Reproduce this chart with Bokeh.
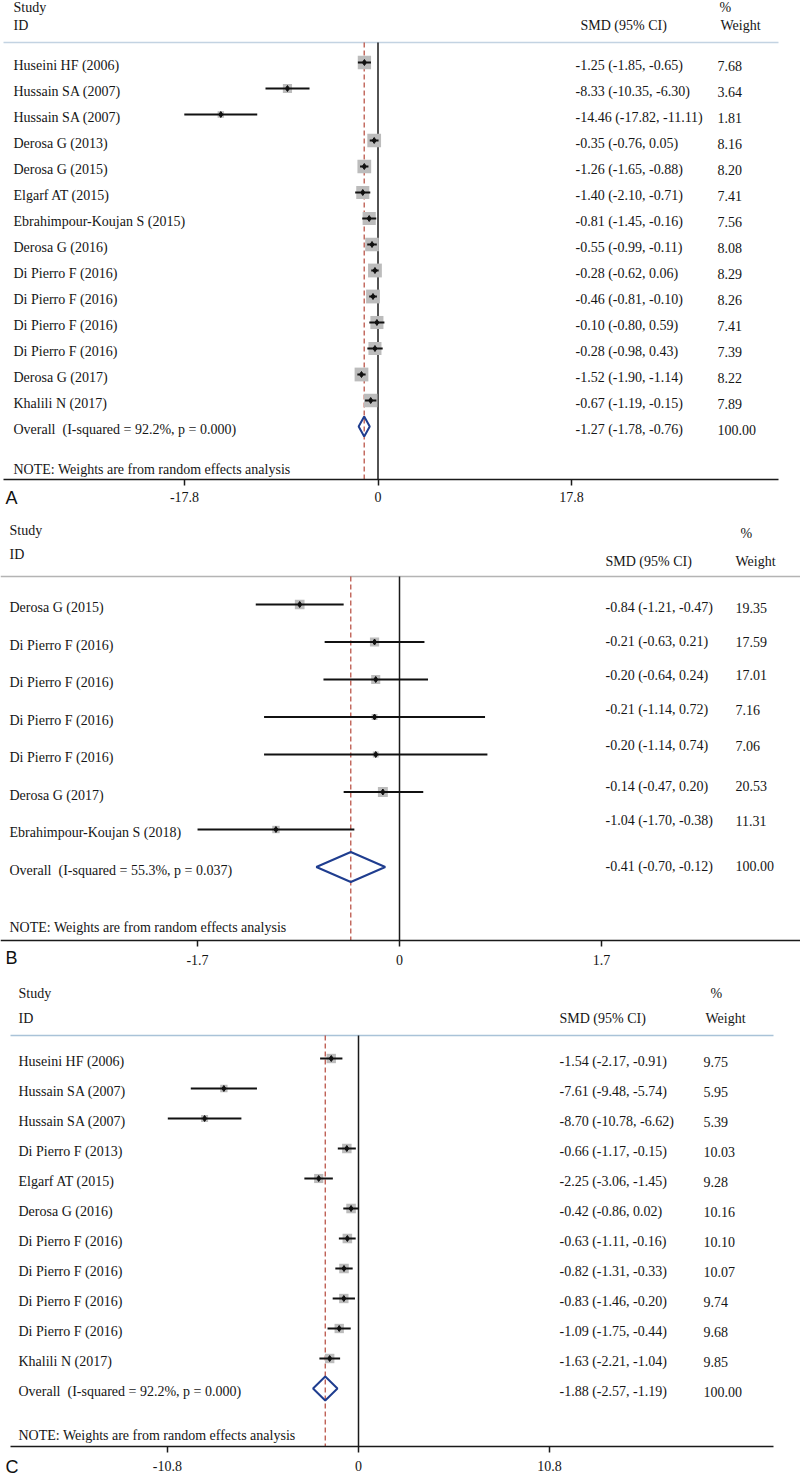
import math
from bokeh.plotting import figure
from bokeh.layouts import column
from bokeh.models import Range1d, FixedTicker, LinearAxis
from bokeh.core.properties import value
from bokeh.embed import file_html
from bokeh.resources import INLINE

# ---------------- data ----------------
a_studies = ["Huseini HF (2006)", "Hussain SA (2007)", "Hussain SA (2007)", "Derosa G (2013)",
             "Derosa G (2015)", "Elgarf AT (2015)", "Ebrahimpour-Koujan S (2015)", "Derosa G (2016)",
             "Di Pierro F (2016)", "Di Pierro F (2016)", "Di Pierro F (2016)", "Di Pierro F (2016)",
             "Derosa G (2017)", "Khalili N (2017)"]
a_smd = [-1.25, -8.33, -14.46, -0.35, -1.26, -1.40, -0.81, -0.55, -0.28, -0.46, -0.10, -0.28, -1.52, -0.67]
a_lo = [-1.85, -10.35, -17.82, -0.76, -1.65, -2.10, -1.45, -0.99, -0.62, -0.81, -0.80, -0.98, -1.90, -1.19]
a_hi = [-0.65, -6.30, -11.11, 0.05, -0.88, -0.71, -0.16, -0.11, 0.06, -0.10, 0.59, 0.43, -1.14, -0.15]
a_wt = [7.68, 3.64, 1.81, 8.16, 8.20, 7.41, 7.56, 8.08, 8.29, 8.26, 7.41, 7.39, 8.22, 7.89]
a_overall = [-1.27, -1.78, -0.76]
a_het = "Overall\u00a0\u00a0(I-squared = 92.2%, p = 0.000)"
a_ticks = [-17.8, 0, 17.8]
a_tick_labels = ["-17.8", "0", "17.8"]

b_studies = ["Derosa G (2015)", "Di Pierro F (2016)", "Di Pierro F (2016)", "Di Pierro F (2016)",
             "Di Pierro F (2016)", "Derosa G (2017)", "Ebrahimpour-Koujan S (2018)"]
b_smd = [-0.84, -0.21, -0.20, -0.21, -0.20, -0.14, -1.04]
b_lo = [-1.21, -0.63, -0.64, -1.14, -1.14, -0.47, -1.70]
b_hi = [-0.47, 0.21, 0.24, 0.72, 0.74, 0.20, -0.38]
b_wt = [19.35, 17.59, 17.01, 7.16, 7.06, 20.53, 11.31]
b_overall = [-0.41, -0.70, -0.12]
b_het = "Overall\u00a0\u00a0(I-squared = 55.3%, p = 0.037)"
b_ticks = [-1.7, 0, 1.7]
b_tick_labels = ["-1.7", "0", "1.7"]

c_studies = ["Huseini HF (2006)", "Hussain SA (2007)", "Hussain SA (2007)", "Di Pierro F (2013)",
             "Elgarf AT (2015)", "Derosa G (2016)", "Di Pierro F (2016)", "Di Pierro F (2016)",
             "Di Pierro F (2016)", "Di Pierro F (2016)", "Khalili N (2017)"]
c_smd = [-1.54, -7.61, -8.70, -0.66, -2.25, -0.42, -0.63, -0.82, -0.83, -1.09, -1.63]
c_lo = [-2.17, -9.48, -10.78, -1.17, -3.06, -0.86, -1.11, -1.31, -1.46, -1.75, -2.21]
c_hi = [-0.91, -5.74, -6.62, -0.15, -1.45, 0.02, -0.16, -0.33, -0.20, -0.44, -1.04]
c_wt = [9.75, 5.95, 5.39, 10.03, 9.28, 10.16, 10.10, 10.07, 9.74, 9.68, 9.85]
c_overall = [-1.88, -2.57, -1.19]
c_het = "Overall\u00a0\u00a0(I-squared = 92.2%, p = 0.000)"
c_ticks = [-10.8, 0, 10.8]
c_tick_labels = ["-10.8", "0", "10.8"]

note_text = "NOTE: Weights are from random effects analysis"

# ---------------- layout / style ----------------
SERIF = "Liberation Serif"
SANS = "Liberation Sans"
FS = "14px"
TXT = "#151515"
W = 800


def fmt(e, l, h):
    return "%.2f (%.2f, %.2f)" % (e, l, h)


def panel(studies, smd, lo, hi, wt, overall, het, ticks, tick_labels, letter, L):
    n = len(studies)
    H = L["height"]
    y0, dy = L["y0"], L["dy"]
    top_row = (L["top"] - y0) / dy
    bot_row = (L["top"] + H - y0) / dy

    def row(r):
        return (r - y0) / dy

    def xd(px):
        return (px - L["zero"]) / L["scale"]

    p = figure(width=W, height=H, output_backend="svg", toolbar_location=None,
               x_range=Range1d(xd(0), xd(W)), y_range=Range1d(bot_row, top_row),
               x_axis_location=None, y_axis_location=None,
               min_border_left=0, min_border_right=0, min_border_top=0, min_border_bottom=0)
    p.xgrid.visible = False
    p.ygrid.visible = False
    p.outline_line_color = None
    p.background_fill_color = "white"
    p.border_fill_color = "white"

    axis_row = row(L["axis"])
    ax = LinearAxis(fixed_location=axis_row, bounds=(xd(L["al"]), xd(L["ar"])))
    ax.ticker = FixedTicker(ticks=ticks)
    ax.major_label_overrides = {t: s for t, s in zip(ticks, tick_labels)}
    ax.minor_tick_line_color = None
    ax.major_tick_in = 0
    ax.major_tick_out = 6
    ax.major_label_standoff = L["standoff"]
    ax.axis_line_width = 1.5
    ax.axis_line_color = "#1a1a1a"
    ax.major_tick_line_width = 1.5
    ax.major_tick_line_color = "#1a1a1a"
    ax.major_label_text_font = SERIF
    ax.major_label_text_font_size = FS
    ax.major_label_text_color = TXT
    p.add_layout(ax, "below")

    rows = list(range(n))
    ov_row = L["ov_row"]
    sep_row = row(L["sep"])

    # separator under header
    p.segment(x0=[xd(L["al"])], y0=[sep_row], x1=[xd(L["ar"])], y1=[sep_row],
              line_color=L["sep_color"], line_width=1.5)
    # null line and dashed overall line
    p.segment(x0=[0], y0=[sep_row], x1=[0], y1=[axis_row], line_color="#1a1a1a", line_width=1.5)
    p.segment(x0=[overall[0]], y0=[sep_row], x1=[overall[0]], y1=[axis_row],
              line_color="#b5473a", line_width=1.2, line_dash="5 3")

    # study boxes, CIs and points
    sizes = [L["k"] * math.sqrt(w) for w in wt]
    p.scatter(x=smd, y=rows, size=sizes, marker="square", fill_color="#bcbcbc", line_color=None)
    p.segment(x0=lo, y0=rows, x1=hi, y1=rows, line_color="#111111", line_width=2)
    p.scatter(x=smd, y=rows, size=6, marker="diamond", fill_color="#111111", line_color="#111111")

    # overall diamond
    h = L["dh"] / dy
    e, l, u = overall
    p.patch(x=[l, e, u, e, l], y=[ov_row, ov_row - h, ov_row, ov_row + h, ov_row],
            fill_color=None, line_color="#1f3d8f", line_width=2)

    tofs = 3.0 / dy
    common = dict(text_font=value(SERIF), text_font_size=FS, text_color=TXT,
                  text_baseline="middle", text_align="left")
    # headers
    p.text(x=[xd(L["lx"]), xd(L["lx"])], y=[row(L["study_y"]), row(L["id_y"])],
           text=["Study", "ID"], **common)
    p.text(x=[xd(L["smd_hdr_x"]), xd(L["pct_x"]), xd(L["wt_hdr_x"])],
           y=[row(L["hdr_y"]), row(L["pct_y"]), row(L["hdr_y"])],
           text=["SMD (95% CI)", "%", "Weight"], **common)
    # study labels
    p.text(x=[xd(L["lx"])] * (n + 1), y=[r + tofs for r in rows] + [ov_row + tofs],
           text=list(studies) + [het], **common)
    # estimates and weights
    rt = L.get("rt_rows", rows + [ov_row])
    p.text(x=[xd(L["smd_x"])] * (n + 1), y=[r + tofs for r in rt],
           text=[fmt(a, b, c) for a, b, c in zip(smd, lo, hi)] + [fmt(*overall)], **common)
    p.text(x=[xd(L["wt_x"])] * (n + 1), y=[r + tofs for r in rt],
           text=["%.2f" % w for w in wt] + ["100.00"], **common)
    # note
    p.text(x=[xd(L["lx"])], y=[row(L["note_y"])], text=[note_text], **common)
    # panel letter
    p.text(x=[xd(L["letter_x"])], y=[row(L["letter_y"])], text=[letter], text_font=value(SANS),
           text_font_size="18px", text_color="#111111", text_baseline="middle", text_align="left")
    return p


LA = dict(top=0, height=509, axis=479, zero=377.5, scale=10.87, al=3, ar=778, y0=62, dy=26,
          ov_row=14, sep=42, sep_color="#c3d3e2", k=4.8, dh=10, standoff=6,
          lx=13, study_y=7, id_y=25, hdr_y=25, pct_y=7, smd_hdr_x=580, pct_x=719, wt_hdr_x=720,
          smd_x=575, wt_x=717, note_y=469, letter_x=5, letter_y=497)
LB = dict(top=509, height=465, axis=940, zero=399, scale=118.8, al=0, ar=800, y0=604, dy=37.5,
          ov_row=7, sep=576, sep_color="#b4b4b4", k=2.2, dh=15, standoff=8,
          lx=9, study_y=530, id_y=554, hdr_y=561, pct_y=533, smd_hdr_x=605, pct_x=740, wt_hdr_x=735,
          smd_x=605, wt_x=735, note_y=927, letter_x=5, letter_y=957,
          rt_rows=[0, 0.91, 1.81, 2.72, 3.68, 4.77, 5.68, 6.9])
LC = dict(top=974, height=501, axis=1446, zero=358, scale=17.69, al=10, ar=773, y0=1058, dy=30,
          ov_row=11, sep=1035, sep_color="#a9c3d8", k=3.0, dh=12, standoff=8,
          lx=18, study_y=993, id_y=1018, hdr_y=1018, pct_y=993, smd_hdr_x=559, pct_x=710, wt_hdr_x=705,
          smd_x=559, wt_x=703, note_y=1435, letter_x=5, letter_y=1466)

pA = panel(a_studies, a_smd, a_lo, a_hi, a_wt, a_overall, a_het, a_ticks, a_tick_labels, "A", LA)
pB = panel(b_studies, b_smd, b_lo, b_hi, b_wt, b_overall, b_het, b_ticks, b_tick_labels, "B", LB)
pC = panel(c_studies, c_smd, c_lo, c_hi, c_wt, c_overall, c_het, c_ticks, c_tick_labels, "C", LC)

layout = column(pA, pB, pC, spacing=0)
open("out.html", "w").write(file_html(layout, INLINE))
